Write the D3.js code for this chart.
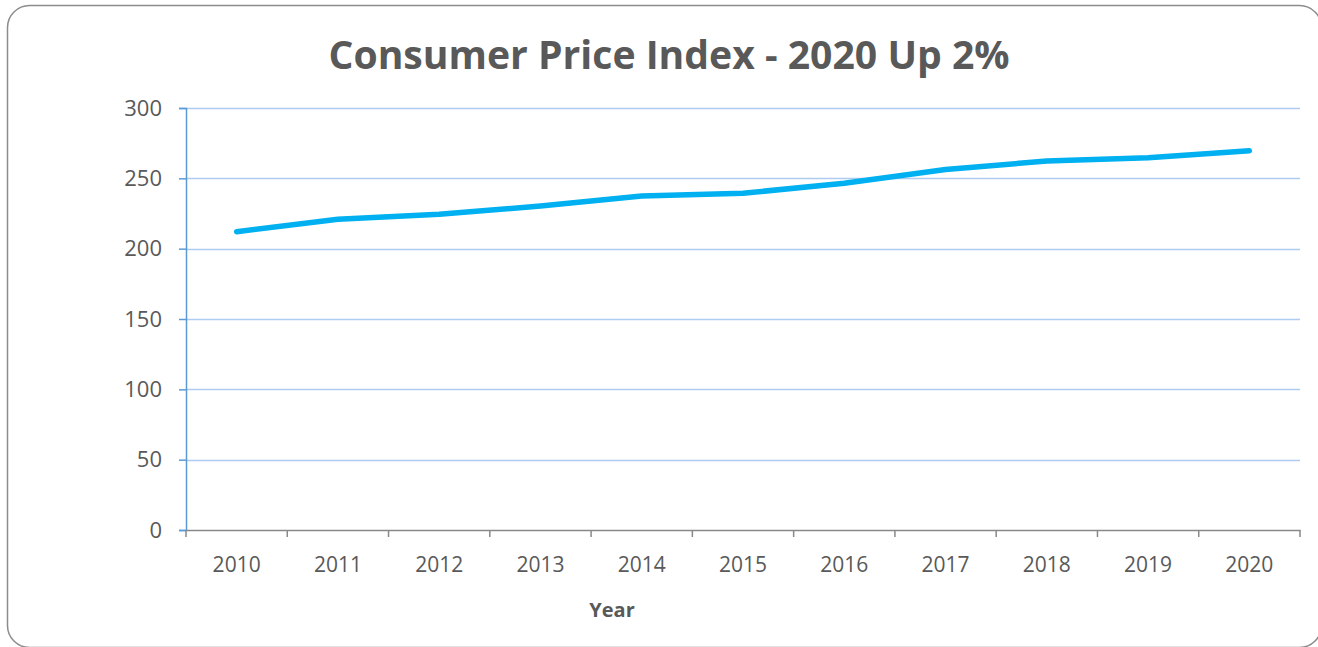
<!DOCTYPE html>
<html>
<head>
<meta charset="utf-8">
<script src="https://cdn.jsdelivr.net/npm/d3@7"></script>
<style>
  html, body { margin: 0; padding: 0; background: #fff; }
  svg { display: block; }
</style>
</head>
<body>
<svg id="chart" width="1318" height="647"></svg>
<script>
const years = ["2010","2011","2012","2013","2014","2015","2016","2017","2018","2019","2020"];
const cpiValues = [212.1, 220.9, 224.4, 230.3, 237.4, 239.4, 246.5, 256.3, 262.3, 264.7, 269.6];
const yTicks = [0, 50, 100, 150, 200, 250, 300];
const titleText = "Consumer Price Index - 2020 Up 2%";
const xAxisTitle = "Year";

const svg = d3.select("#chart");
const m = { left: 186, right: 1300, top: 108, bottom: 530 };

// outer rounded border
svg.append("rect")
  .attr("x", 7.5).attr("y", 5.5)
  .attr("width", 1314).attr("height", 642)
  .attr("rx", 22).attr("ry", 22)
  .attr("fill", "#fff").attr("stroke", "#8c8c8c").attr("stroke-width", 1.5);

const x = d3.scaleBand().domain(years).range([m.left, m.right]).paddingInner(0).paddingOuter(0);
const y = d3.scaleLinear().domain([0, 300]).range([m.bottom, m.top]);

// gridlines
svg.append("g").selectAll("line").data(yTicks.filter(d => d > 0)).join("line")
  .attr("x1", m.left).attr("x2", m.right)
  .attr("y1", d => Math.round(y(d)) + 0.5).attr("y2", d => Math.round(y(d)) + 0.5)
  .attr("stroke", "#aecbf0").attr("stroke-width", 1.5);

// y axis
const yAxis = svg.append("g")
  .attr("transform", `translate(${m.left},0)`)
  .call(d3.axisLeft(y).tickValues(yTicks).tickSize(7).tickPadding(17));
yAxis.select(".domain").attr("stroke", "#5b9bd5").attr("stroke-width", 1.5);
yAxis.selectAll(".tick line").attr("stroke", "#5b9bd5").attr("stroke-width", 1.5);
yAxis.selectAll("text")
  .attr("fill", "#595959")
  .style("font-family", "'Open Sans', sans-serif")
  .style("font-size", "22px");

// x axis
const xAxis = svg.append("g")
  .attr("transform", `translate(0,${m.bottom})`)
  .call(d3.axisBottom(x).tickSize(0).tickPadding(27));
xAxis.select(".domain").attr("stroke", "#898989").attr("stroke-width", 1.5);
xAxis.selectAll("text")
  .attr("fill", "#595959")
  .style("font-family", "'Open Sans', sans-serif")
  .style("font-size", "21px");
// category boundary ticks
const bounds = years.map(d => x(d)).concat([x(years[years.length - 1]) + x.bandwidth()]);
svg.append("g").selectAll("line").data(bounds).join("line")
  .attr("x1", d => d).attr("x2", d => d)
  .attr("y1", m.bottom).attr("y2", m.bottom + 7)
  .attr("stroke", "#898989").attr("stroke-width", 1.5);

// line
const line = d3.line()
  .x((d, i) => x(years[i]) + x.bandwidth() / 2)
  .y(d => y(d));
svg.append("path")
  .datum(cpiValues)
  .attr("d", line)
  .attr("fill", "none")
  .attr("stroke", "#00b0f0")
  .attr("stroke-width", 5.5)
  .attr("stroke-linecap", "round")
  .attr("stroke-linejoin", "round");

// title
svg.append("text")
  .attr("x", 669).attr("y", 69)
  .attr("text-anchor", "middle")
  .attr("fill", "#595959")
  .style("font-family", "'Open Sans', sans-serif")
  .style("font-weight", "bold")
  .style("font-size", "40px")
  .attr("textLength", 681)
  .attr("lengthAdjust", "spacingAndGlyphs")
  .text(titleText);

// x axis title
svg.append("text")
  .attr("x", 612).attr("y", 617)
  .attr("text-anchor", "middle")
  .attr("fill", "#595959")
  .style("font-family", "'Open Sans', sans-serif")
  .style("font-weight", "bold")
  .style("font-size", "20px")
  .text(xAxisTitle);
</script>
</body>
</html>
